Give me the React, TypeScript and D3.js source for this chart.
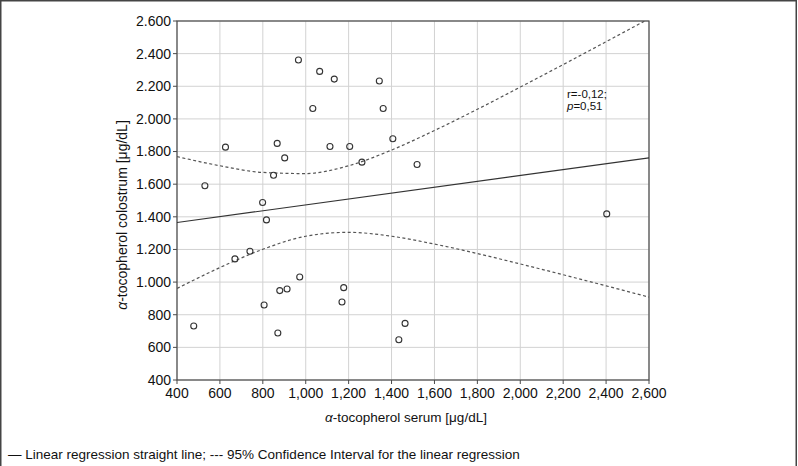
import React from "react";
import * as d3 from "d3";

const serumX = [530, 626, 850, 867, 902, 966, 1033, 1065, 1133, 1113, 1205, 799, 817, 670, 740, 972, 879, 913, 806, 1177, 1169, 478, 870, 1343, 1361, 1406, 1262, 1519, 1463, 1434, 2403];
const colostrumY = [1590, 1827, 1655, 1850, 1761, 2361, 2064, 2291, 2244, 1831, 1831, 1488, 1381, 1142, 1189, 1031, 948, 958, 860, 966, 878, 731, 688, 2232, 2064, 1878, 1735, 1721, 747, 647, 1418];

const lineX = [400, 2600];
const lineY = [1365, 1761];

const ciX = [400, 600, 800, 1000, 1200, 1400, 1600, 1800, 2000, 2200, 2400, 2600];
const ciUpper = [1769, 1713, 1672, 1665, 1713, 1809, 1929, 2059, 2195, 2333, 2473, 2614];
const ciLower = [961, 1089, 1201, 1281, 1305, 1281, 1233, 1175, 1111, 1045, 977, 908];

const xTicks = [400, 600, 800, 1000, 1200, 1400, 1600, 1800, 2000, 2200, 2400, 2600];
const yTicks = [400, 600, 800, 1000, 1200, 1400, 1600, 1800, 2000, 2200, 2400, 2600];

const legendText = "— Linear regression straight line; --- 95% Confidence Interval for the linear regression";

export default function App() {
  const W = 798, H = 466;
  const L = 177, R = 649, T = 21, B = 380;
  const x = d3.scaleLinear().domain([400, 2600]).range([L, R]);
  const y = d3.scaleLinear().domain([400, 2600]).range([B, T]);
  const fmtX = d3.format(",");
  const fmtY = (v: number) => d3.format(",")(v).replace(",", ".");

  const upper = d3.line<number>().x((_, i) => x(ciX[i])).y((d) => y(d)).curve(d3.curveMonotoneX)(ciUpper) || "";
  const lower = d3.line<number>().x((_, i) => x(ciX[i])).y((d) => y(d)).curve(d3.curveMonotoneX)(ciLower) || "";
  const font = "'Liberation Sans', Arial, sans-serif";
  const axisColor = "#4a4a4a";

  return (
    <svg width={W} height={H} style={{ position: "fixed", left: 0, top: 0, background: "#fff" }} fontFamily={font}>
      <defs>
        <clipPath id="plot">
          <rect x={L} y={T} width={R - L} height={B - T} />
        </clipPath>
        <clipPath id="ann">
          <rect x={540} y={60} width={67} height={60} />
        </clipPath>
      </defs>
      <rect x={0} y={0} width={W} height={H} fill="#fff" />
      <path d={`M0.75,${H} V0.75 H${W - 1.75} V${H}`} fill="none" stroke="#444" strokeWidth={1.5} />
      {xTicks.map((t) => (
        <line key={"gx" + t} x1={x(t)} x2={x(t)} y1={T} y2={B} stroke="#d2d2d2" strokeWidth={1} />
      ))}
      {yTicks.map((t) => (
        <line key={"gy" + t} x1={L} x2={R} y1={y(t)} y2={y(t)} stroke="#d2d2d2" strokeWidth={1} />
      ))}
      <rect x={L} y={T} width={R - L} height={B - T} fill="none" stroke={axisColor} strokeWidth={1.2} />
      {yTicks.map((t) => (
        <g key={"ty" + t}>
          <line x1={L - 4} x2={L} y1={y(t)} y2={y(t)} stroke={axisColor} />
          <text x={171} y={y(t)} dy="0.35em" textAnchor="end" fontSize={14} fill="#111">{fmtY(t)}</text>
        </g>
      ))}
      {xTicks.map((t) => (
        <g key={"tx" + t}>
          <line x1={x(t)} x2={x(t)} y1={B} y2={B + 4} stroke={axisColor} />
          <text x={x(t)} y={398} textAnchor="middle" fontSize={14} fill="#111">{fmtX(t)}</text>
        </g>
      ))}
      <g clipPath="url(#plot)">
        <line x1={x(lineX[0])} y1={y(lineY[0])} x2={x(lineX[1])} y2={y(lineY[1])} stroke="#333" strokeWidth={1.2} />
        <path d={upper} fill="none" stroke="#555" strokeWidth={1.2} strokeDasharray="3,2.5" />
        <path d={lower} fill="none" stroke="#555" strokeWidth={1.2} strokeDasharray="3,2.5" />
        {serumX.map((v, i) => (
          <circle key={"p" + i} cx={x(v)} cy={y(colostrumY[i])} r={3} fill="none" stroke="#333" strokeWidth={1.1} />
        ))}
      </g>
      <g clipPath="url(#ann)" fontSize={11.5} fill="#111">
        <text x={567} y={98}>r=-0,12; n=31</text>
        <text x={567} y={110}><tspan fontStyle="italic">p</tspan>=0,51</text>
      </g>
      <text x={406} y={422} textAnchor="middle" fontSize={13.5} fill="#111">
        <tspan fontStyle="italic">α</tspan>-tocopherol serum [μg/dL]
      </text>
      <text transform={`translate(127,215) rotate(-90)`} textAnchor="middle" fontSize={14} fill="#111">
        <tspan fontStyle="italic">α</tspan>-tocopherol colostrum [μg/dL]
      </text>
      <text x={8} y={459} fontSize={13.5} fill="#111">{legendText}</text>
    </svg>
  );
}
